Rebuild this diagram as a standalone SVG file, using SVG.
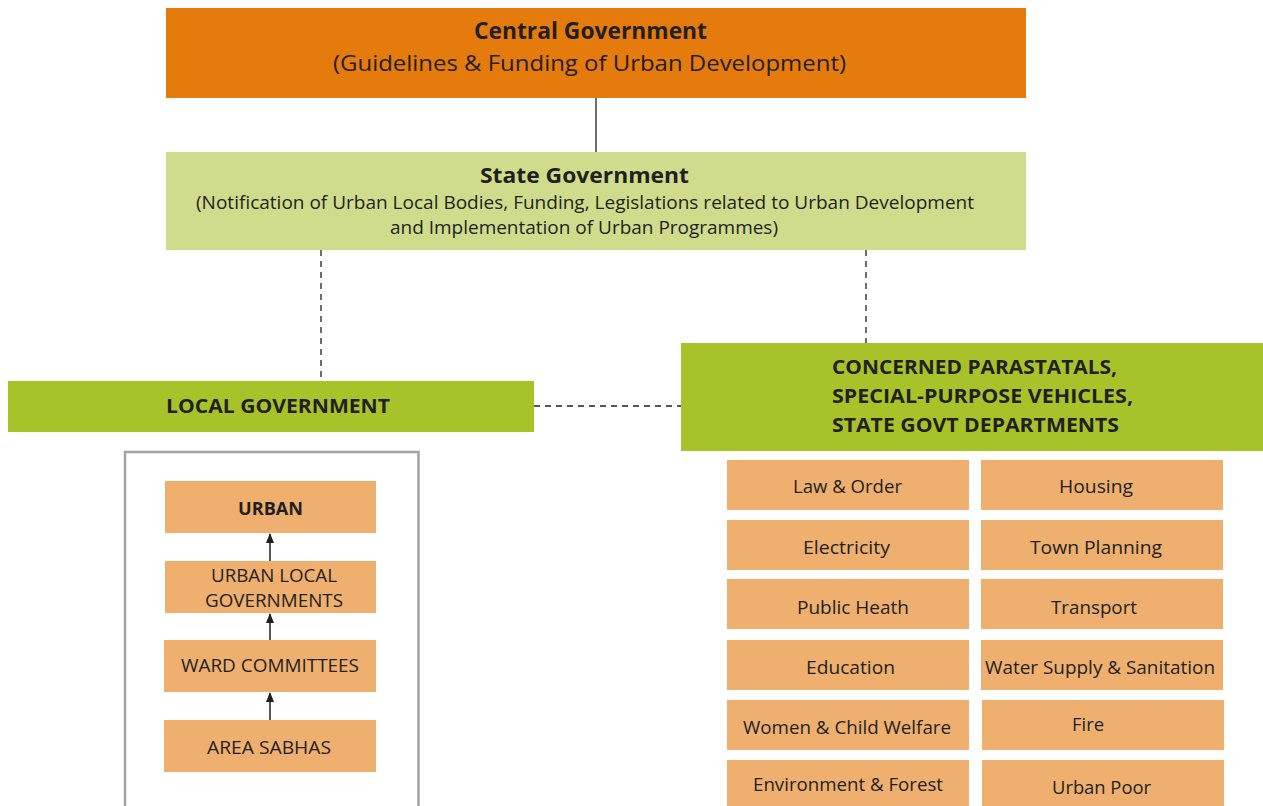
<svg xmlns="http://www.w3.org/2000/svg" width="1263" height="806" viewBox="0 0 1263 806">
  <style>
    text { font-family: "Open Sans", "Liberation Sans", sans-serif; fill: #231f20; }
    .c { text-anchor: middle; }
    .b { font-weight: bold; }
    .t18 { font-size: 18.5px; }
    .orange { fill: #e47b0c; }
    .state { fill: #cfdc8b; }
    .green { fill: #a8c22a; }
    .tan { fill: #eeaf6f; }
    .solid { stroke: #231f20; stroke-width: 1.3; fill: none; }
    .dash { stroke: #231f20; stroke-width: 1.3; fill: none; stroke-dasharray: 6 5; }
    .arrow { stroke: #231f20; stroke-width: 1.5; fill: none; marker-end: url(#head); }
  </style>
  <defs>
    <marker id="head" viewBox="0 0 10 10" refX="9" refY="5" markerWidth="10" markerHeight="8" markerUnits="userSpaceOnUse" orient="auto" preserveAspectRatio="none">
      <path d="M0,0 L10,5 L0,10 Z" fill="#231f20"/>
    </marker>
  </defs>
  <rect width="1263" height="806" fill="#ffffff"/>

  <!-- connectors -->
  <g id="connectors">
    <line class="solid" x1="596" y1="98" x2="596" y2="152"/>
    <line class="dash" x1="321" y1="250" x2="321" y2="381"/>
    <line class="dash" x1="866" y1="250" x2="866" y2="343"/>
    <line class="dash" x1="534" y1="406" x2="681" y2="406"/>
    <line class="arrow" x1="270" y1="561" x2="270" y2="534"/>
    <line class="arrow" x1="270" y1="640" x2="270" y2="614"/>
    <line class="arrow" x1="270" y1="720" x2="270" y2="693"/>
  </g>

  <g id="central">
    <rect class="orange" x="166" y="8" width="860" height="90"/>
    <text class="c b" x="590.5" y="39" font-size="23" textLength="233" lengthAdjust="spacingAndGlyphs">Central Government</text>
    <text class="c" x="589.5" y="71" font-size="22" textLength="513" lengthAdjust="spacingAndGlyphs">(Guidelines &amp; Funding of Urban Development)</text>
  </g>

  <g id="state">
    <rect class="state" x="166" y="152" width="860" height="98"/>
    <text class="c b" x="584.5" y="183" font-size="22" textLength="209" lengthAdjust="spacingAndGlyphs">State Government</text>
    <text class="c t18" x="585" y="209" textLength="778" lengthAdjust="spacingAndGlyphs">(Notification of Urban Local Bodies, Funding, Legislations related to Urban Development</text>
    <text class="c t18" x="584" y="234" textLength="388" lengthAdjust="spacingAndGlyphs">and Implementation of Urban Programmes)</text>
  </g>

  <g id="local-government">
    <rect class="green" x="8" y="381" width="526" height="51"/>
    <text class="b" x="166" y="413" font-size="20" textLength="224" lengthAdjust="spacingAndGlyphs">LOCAL GOVERNMENT</text>
  </g>

  <g id="parastatals">
    <rect class="green" x="681" y="343" width="582" height="108"/>
    <text class="b" x="832" y="374" font-size="20" textLength="285" lengthAdjust="spacingAndGlyphs">CONCERNED PARASTATALS,</text>
    <text class="b" x="832" y="403" font-size="20" textLength="301" lengthAdjust="spacingAndGlyphs">SPECIAL-PURPOSE VEHICLES,</text>
    <text class="b" x="832" y="432" font-size="20" textLength="287" lengthAdjust="spacingAndGlyphs">STATE GOVT DEPARTMENTS</text>
  </g>

  <!-- local tiers panel -->
  <g id="local-panel">
    <path d="M125,806 V452 H418.5 V806" fill="none" stroke="#a3a3a3" stroke-width="2.5"/>
  </g>
  <g id="urban">
    <rect class="tan" x="165" y="481" width="211" height="52"/>
    <text class="c b t18" x="270.5" y="515" textLength="65" lengthAdjust="spacingAndGlyphs">URBAN</text>
  </g>
  <g id="urban-local-governments">
    <rect class="tan" x="165" y="561" width="211" height="52"/>
    <text class="c t18" x="274" y="582" textLength="126" lengthAdjust="spacingAndGlyphs">URBAN LOCAL</text>
    <text class="c t18" x="274" y="607" textLength="138" lengthAdjust="spacingAndGlyphs">GOVERNMENTS</text>
  </g>
  <g id="ward-committees">
    <rect class="tan" x="164" y="640" width="212" height="52"/>
    <text class="c t18" x="270" y="672" textLength="178" lengthAdjust="spacingAndGlyphs">WARD COMMITTEES</text>
  </g>
  <g id="area-sabhas">
    <rect class="tan" x="164" y="720" width="212" height="52"/>
    <text class="c t18" x="269" y="754" textLength="124" lengthAdjust="spacingAndGlyphs">AREA SABHAS</text>
  </g>

  <!-- departments -->
  <g id="law-order">
    <rect class="tan" x="727" y="460" width="242" height="50"/>
    <text class="c t18" x="847.5" y="493" textLength="109" lengthAdjust="spacingAndGlyphs">Law &amp; Order</text>
  </g>
  <g id="housing">
    <rect class="tan" x="981" y="460" width="242" height="50"/>
    <text class="c t18" x="1096" y="493" textLength="74" lengthAdjust="spacingAndGlyphs">Housing</text>
  </g>
  <g id="electricity">
    <rect class="tan" x="727" y="520" width="242" height="50"/>
    <text class="c t18" x="846.5" y="554" textLength="87" lengthAdjust="spacingAndGlyphs">Electricity</text>
  </g>
  <g id="town-planning">
    <rect class="tan" x="981" y="520" width="242" height="50"/>
    <text class="c t18" x="1096" y="554" textLength="132" lengthAdjust="spacingAndGlyphs">Town Planning</text>
  </g>
  <g id="public-heath">
    <rect class="tan" x="727" y="579" width="242" height="50"/>
    <text class="c t18" x="853" y="614" textLength="112" lengthAdjust="spacingAndGlyphs">Public Heath</text>
  </g>
  <g id="transport">
    <rect class="tan" x="981" y="579" width="242" height="50"/>
    <text class="c t18" x="1094" y="614" textLength="86" lengthAdjust="spacingAndGlyphs">Transport</text>
  </g>
  <g id="education">
    <rect class="tan" x="727" y="640" width="242" height="50"/>
    <text class="c t18" x="850.5" y="674" textLength="89" lengthAdjust="spacingAndGlyphs">Education</text>
  </g>
  <g id="water-supply">
    <rect class="tan" x="981" y="640" width="242" height="50"/>
    <text class="c t18" x="1100" y="674" textLength="230" lengthAdjust="spacingAndGlyphs">Water Supply &amp; Sanitation</text>
  </g>
  <g id="women-child">
    <rect class="tan" x="727" y="700" width="242" height="50"/>
    <text class="c t18" x="847" y="734" textLength="208" lengthAdjust="spacingAndGlyphs">Women &amp; Child Welfare</text>
  </g>
  <g id="fire">
    <rect class="tan" x="982" y="700" width="242" height="50"/>
    <text class="c t18" x="1088" y="731" textLength="32" lengthAdjust="spacingAndGlyphs">Fire</text>
  </g>
  <g id="environment">
    <rect class="tan" x="727" y="760" width="242" height="46"/>
    <text class="c t18" x="848" y="791" textLength="190" lengthAdjust="spacingAndGlyphs">Environment &amp; Forest</text>
  </g>
  <g id="urban-poor">
    <rect class="tan" x="982" y="760" width="242" height="46"/>
    <text class="c t18" x="1101.5" y="794" textLength="99" lengthAdjust="spacingAndGlyphs">Urban Poor</text>
  </g>
</svg>
